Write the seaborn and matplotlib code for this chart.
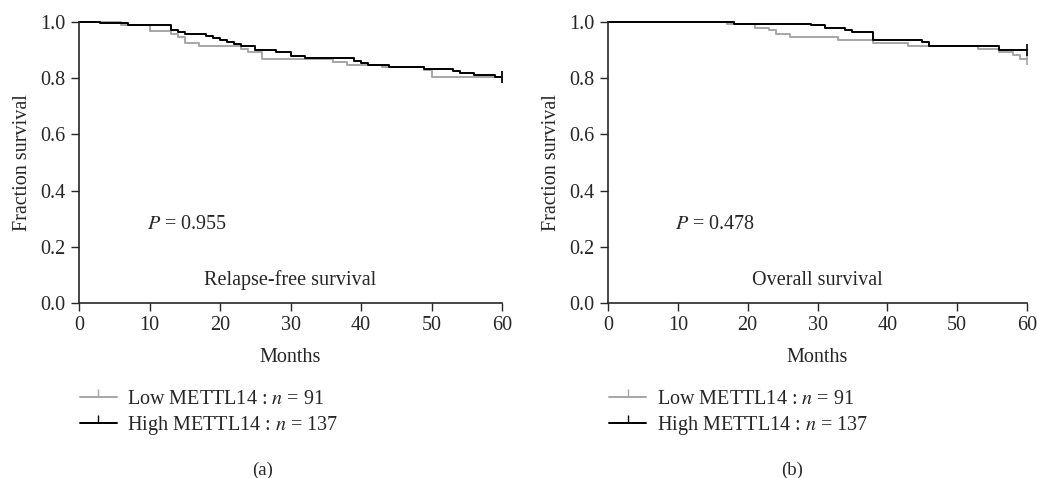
import pandas as pd
import seaborn as sns
import matplotlib.pyplot as plt
from matplotlib.lines import Line2D

# Panel (a): relapse-free survival
rfs_low_t = [0, 6, 7, 10, 13, 14, 15, 17, 23, 24, 26, 36, 38, 43, 49, 50, 60]
rfs_low_s = [1.0, 0.99, 0.988, 0.967, 0.958, 0.947, 0.924, 0.913, 0.905,
             0.892, 0.869, 0.859, 0.848, 0.841, 0.828, 0.803, 0.803]
rfs_high_t = [0, 3, 7, 13, 14, 15, 18, 19, 20, 21, 22, 23, 25, 28, 30, 32,
              39, 40, 41, 44, 49, 53, 54, 56, 59, 60]
rfs_high_s = [1.0, 0.995, 0.988, 0.973, 0.964, 0.958, 0.951, 0.944, 0.937,
              0.929, 0.922, 0.915, 0.900, 0.893, 0.878, 0.871, 0.862, 0.854,
              0.848, 0.841, 0.833, 0.826, 0.818, 0.811, 0.805, 0.805]

# Panel (b): overall survival
os_low_t = [0, 17, 21, 23, 24, 26, 33, 38, 43, 53, 56, 58, 59, 60]
os_low_s = [1.0, 0.993, 0.980, 0.970, 0.957, 0.948, 0.936, 0.925, 0.913,
            0.905, 0.893, 0.881, 0.869, 0.869]
os_high_t = [0, 18, 29, 31, 34, 35, 38, 45, 46, 56, 60]
os_high_s = [1.0, 0.994, 0.988, 0.979, 0.972, 0.965, 0.936, 0.929, 0.913,
             0.899, 0.899]

groups = ['Low', 'High']
p_values = ['0.955', '0.478']
panel_titles = ['Relapse-free survival', 'Overall survival']
panel_tags = ['(a)', '(b)']
legend_labels = ['Low METTL14 : $n$ = 91', 'High METTL14 : $n$ = 137']
colors = {'Low': '#a6a6a6', 'High': '#000000'}
FS = 14.5


def make_frame(low_t, low_s, high_t, high_s):
    low = pd.DataFrame({'month': low_t, 'surv': low_s, 'group': 'Low'})
    high = pd.DataFrame({'month': high_t, 'surv': high_s, 'group': 'High'})
    return pd.concat([low, high], ignore_index=True)


def draw_panel(ax, df, p_text, title):
    sns.lineplot(data=df, x='month', y='surv', hue='group',
                 hue_order=groups, palette=colors, drawstyle='steps-post',
                 estimator=None, linewidth=1.4, legend=False, ax=ax,
                 clip_on=False)
    # censor tick at the end of each curve
    for g in groups:
        last = df[df['group'] == g].iloc[-1]
        ax.plot(last['month'], last['surv'], marker='|', markersize=9,
                color=colors[g], clip_on=False, markeredgewidth=1.2)
    ax.set_xlim(0, 60)
    ax.set_ylim(0, 1.0)
    ax.set_xticks(range(0, 61, 10))
    ax.set_yticks([0, 0.2, 0.4, 0.6, 0.8, 1.0])
    ax.set_yticklabels(['0.0', '0.2', '0.4', '0.6', '0.8', '1.0'])
    ax.set_xlabel('Months', fontsize=FS, labelpad=9)
    ax.set_ylabel('Fraction survival', fontsize=FS, labelpad=6)
    ax.tick_params(labelsize=FS, length=6, width=1, direction='out')
    for s in ['left', 'bottom']:
        ax.spines[s].set_linewidth(1.2)
    sns.despine(ax=ax)
    ax.text(9.6, 0.278, '$P$ = ' + p_text, fontsize=FS, va='center')
    ax.text(30, 0.082, title, fontsize=FS, ha='center', va='center')


def main():
    sns.set_style('ticks')
    plt.rcParams['font.family'] = ['Liberation Serif', 'DejaVu Serif']
    plt.rcParams['mathtext.fontset'] = 'stix'

    fig = plt.figure(figsize=(10.37, 4.78), dpi=100)
    ax_a = fig.add_axes([0.0762, 0.366, 0.4079, 0.588])
    ax_b = fig.add_axes([0.5863, 0.366, 0.4041, 0.588])

    frames = [make_frame(rfs_low_t, rfs_low_s, rfs_high_t, rfs_high_s),
              make_frame(os_low_t, os_low_s, os_high_t, os_high_s)]
    lefts = [0.077, 0.5875]
    centers = [0.253, 0.764]
    for ax, df, p, title, tag, left, cx in zip(
            [ax_a, ax_b], frames, p_values, panel_titles, panel_tags,
            lefts, centers):
        draw_panel(ax, df, p, title)
        handles = [Line2D([0], [0], color=colors[g], lw=1.4, marker=2,
                          markersize=6, markeredgewidth=1.0)
                   for g in groups]
        fig.legend(handles, legend_labels, loc='upper left',
                   bbox_to_anchor=(left, 0.184), frameon=False,
                   fontsize=FS, handlelength=1.85, handletextpad=0.5,
                   labelspacing=0.22, borderpad=0, borderaxespad=0)
        fig.text(cx, 0.017, tag, ha='center', va='center', fontsize=13.5)

    fig.savefig('out.png', dpi=100)


if __name__ == '__main__':
    main()
